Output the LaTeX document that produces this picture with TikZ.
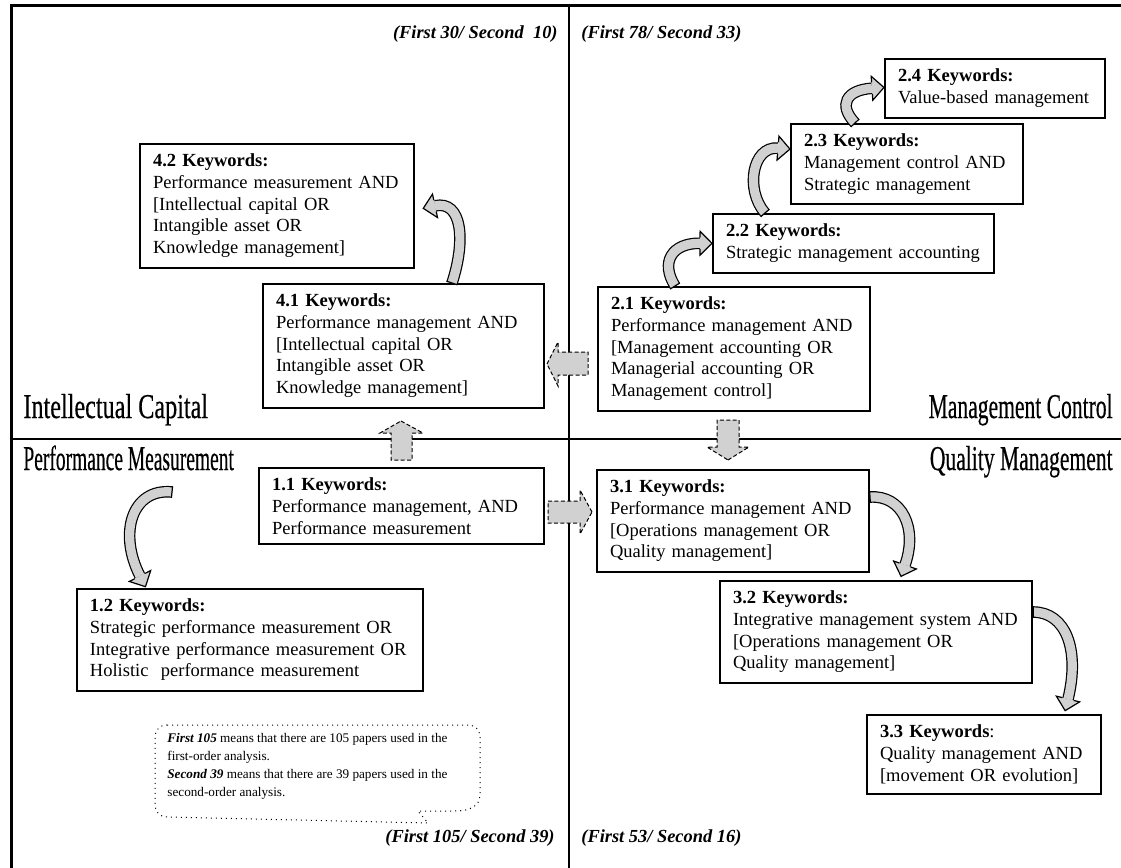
\documentclass[tikz,border=0pt]{standalone}
\usepackage{fontspec}
\setmainfont{Liberation Serif}
\newfontfamily\quadfont[FakeBold=0.5]{Liberation Serif}
\usetikzlibrary{decorations.markings}

\definecolor{arrowfill}{gray}{0.82}

\tikzset{
  kwbox/.style={draw, line width=1pt, anchor=north west, align=left,
    inner xsep=6.5pt, inner ysep=5pt, font=\fontsize{9.25}{10.85}\selectfont},
  quad/.style={font=\quadfont\fontsize{17.4}{18}\selectfont, inner sep=0pt},
  count/.style={font=\fontsize{9.2}{11}\selectfont\bfseries\itshape, inner sep=0pt},
  note/.style={font=\fontsize{6.6}{9}\selectfont, align=left, inner sep=0pt},
  dasharrow/.style={draw, line width=0.5pt, dash pattern=on 2pt off 1.2pt, fill=arrowfill},
  bendarrow/.style={double=arrowfill, double distance=4.6pt, line width=0.6pt,
    postaction={decorate}, decoration={markings,
      mark=at position 0 with {\draw[line width=0.6pt] (0pt,-2.9pt) -- (0pt,2.9pt);},
      mark=at position 0.9999 with {\fill[arrowfill] (0pt,-6pt) -- (6pt,0pt) -- (0pt,6pt) -- cycle;
        \draw[line width=0.6pt] (0pt,-2.9pt) -- (0pt,-6pt) -- (6pt,0pt) -- (0pt,6pt) -- (0pt,2.9pt);}}}
}

\begin{document}
\begin{tikzpicture}[x=0.5pt, y=-0.5pt]
  \useasboundingbox (0,0) rectangle (1121,868);

  % frame and quadrants
  \draw[line width=1.5pt] (11,868) -- (11,5) -- (1121,5);
  \draw[line width=0.75pt] (569,5) -- (569,868);
  \draw[line width=0.75pt] (11,439) -- (1121,439);

  % quadrant titles
  \node[quad, anchor=base west] (ic) at (23,418) {\scalebox{0.695}[1]{Intellectual Capital}};
  \node[quad, anchor=base west] (pm) at (23,470) {\scalebox{0.56}[1]{Performance Measurement}};
  \node[quad, anchor=base east] (mc) at (1113,418) {\scalebox{0.62}[1]{Management Control}};
  \node[quad, anchor=base east] (qm) at (1113,470) {\scalebox{0.62}[1]{Quality Management}};

  % paper counts
  \node[count, anchor=base east] (n4) at (558,38) {(First 30/ Second\ \ 10)};
  \node[count, anchor=base west] (n2) at (581,38) {(First 78/ Second 33)};
  \node[count, anchor=base east] (n1) at (555,842) {(First 105/ Second 39)};
  \node[count, anchor=base west] (n3) at (581,842) {(First 53/ Second 16)};

  % keyword boxes
  \node[kwbox, text width=124pt] (k42) at (139,143) {\textbf{4.2 Keywords:}\\
    Performance measurement AND\\{}[Intellectual capital OR\\ Intangible asset OR\\ Knowledge management]};
  \node[kwbox, text width=127.5pt] (k41) at (262,283) {\textbf{4.1 Keywords:}\\
    Performance management AND\\{}[Intellectual capital OR\\ Intangible asset OR\\ Knowledge management]};
  \node[kwbox, text width=129.5pt] (k11) at (258,467) {\textbf{1.1 Keywords:}\\
    Performance management, AND\\ Performance measurement};
  \node[kwbox, text width=160pt] (k12) at (76,588) {\textbf{1.2 Keywords:}\\
    Strategic performance measurement OR\\ Integrative performance measurement OR\\ Holistic\ \ performance measurement};
  \node[kwbox, text width=123pt] (k21) at (597,286) {\textbf{2.1 Keywords:}\\
    Performance management AND\\{}[Management accounting OR\\ Managerial accounting OR\\ Management control]};
  \node[kwbox, text width=127.5pt] (k22) at (712,213) {\textbf{2.2 Keywords:}\\
    Strategic management accounting};
  \node[kwbox, text width=103pt] (k23) at (790,123) {\textbf{2.3 Keywords:}\\
    Management control AND\\ Strategic management};
  \node[kwbox, text width=97pt] (k24) at (884,58) {\textbf{2.4 Keywords:}\\
    Value-based management};
  \node[kwbox, text width=123pt] (k31) at (596,469) {\textbf{3.1 Keywords:}\\
    Performance management AND\\{}[Operations management OR\\ Quality management]};
  \node[kwbox, text width=143pt] (k32) at (719,580) {\textbf{3.2 Keywords:}\\
    Integrative management system AND\\{}[Operations management OR\\ Quality management]};
  \node[kwbox, text width=104pt] (k33) at (866,714) {\textbf{3.3 Keywords}:\\
    Quality management AND\\{}[movement OR evolution]};

  % curved arrows inside the quadrants
  \draw[bendarrow] ([xshift=95pt]k41.north west) .. controls (466,240) and (462,200) .. ([xshift=10pt]k42.east);
  \draw[bendarrow] ([xshift=39pt]k21.north west) .. controls (660,262) and (672,243) .. ([xshift=-6pt]k22.west);
  \draw[bendarrow] ([xshift=26.5pt]k22.north west) .. controls (745,190) and (752,146) .. ([xshift=-6pt,yshift=8pt]k23.west);
  \draw[bendarrow] ([xshift=32.5pt]k23.north west) .. controls (838,105) and (846,90) .. ([xshift=-6pt]k24.west);
  \draw[bendarrow] ([xshift=-43pt,yshift=-12.5pt]k11.north west) .. controls (132,488) and (118,533) .. ([xshift=32pt,yshift=6pt]k12.north west);
  \draw[bendarrow] ([yshift=-14pt]k31.north east) .. controls (902,495) and (918,528) .. ([xshift=93pt,yshift=7.5pt]k32.north west);
  \draw[bendarrow] ([yshift=-16pt]k32.north east) .. controls (1066,612) and (1080,650) .. ([xshift=101pt,yshift=7.5pt]k33.north west);

  % dashed arrows across the quadrants
  \draw[dasharrow] (547,364) -- (558,342) -- (558,352) -- (588,352) -- (588,375) -- (558,375) -- (558,386) -- cycle;
  \draw[dasharrow] (401,421) -- (423,433) -- (412,433) -- (412,460) -- (391,460) -- (391,433) -- (380,433) -- cycle;
  \draw[dasharrow] (728,460) -- (749,447) -- (739,447) -- (739,420) -- (717,420) -- (717,447) -- (707,447) -- cycle;
  \draw[dasharrow] (592,512) -- (580,490) -- (580,501) -- (548,501) -- (548,523) -- (580,523) -- (580,534) -- cycle;

  % note
  \draw[dotted, line width=0.5pt] (167,725) -- (468,725) .. controls (475,725) and (480,730) .. (480,737)
    -- (480,795) .. controls (480,806) and (470,811) .. (455,811) -- (418,811) -- (428,823)
    -- (167,817) .. controls (160,817) and (155,812) .. (155,805) -- (155,737)
    .. controls (155,730) and (160,725) .. (167,725) -- cycle;
  \node[note, anchor=north west] (nt) at (167,733) {\textbf{\textit{First 105}} means that there are 105 papers used in the\\
    first-order analysis.\\ \textbf{\textit{Second 39}} means that there are 39 papers used in the\\ second-order analysis.};
\end{tikzpicture}
\end{document}
